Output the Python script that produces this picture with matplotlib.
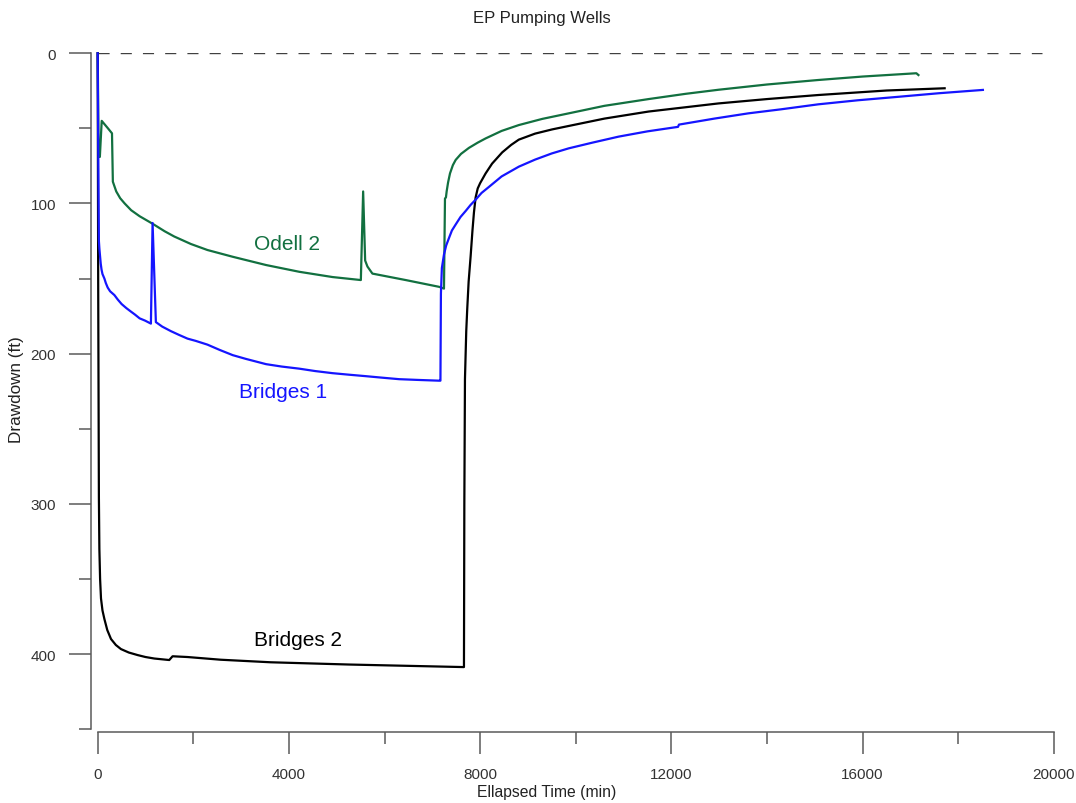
import matplotlib
matplotlib.use("Agg")
import matplotlib.pyplot as plt

plt.rcParams["font.family"] = ["Liberation Sans", "DejaVu Sans"]

# Bridges 1 (blue)
b1_time = [0, 10, 25, 35, 63, 80, 100, 140, 170, 209, 260, 349, 420, 501, 600, 695,
           780, 877, 990, 1113, 1148, 1217,
           1350, 1530, 1700, 1879, 2050, 2296, 2550, 2825, 3100, 3522, 3850, 4217,
           4550, 4912, 5250, 5610, 5950, 6305, 6700, 7140, 7170, 7180, 7200, 7244,
           7290, 7349, 7410, 7489, 7590, 7698, 7800, 7906, 8030, 8184, 8450, 8810,
           9150, 9499, 9854, 10350, 10898, 11500, 12140, 12160, 12900, 13612,
           14300, 15073, 15900, 16743, 17600, 18518]
b1_draw = [0, 60, 125, 130, 140, 144, 147, 150, 153, 156, 158.5, 161, 164, 167, 169.7, 172,
           174, 176.5, 178, 180, 113, 179,
           182, 185, 187.5, 190, 191.5, 194, 197.5, 201, 203.5, 207, 208.6, 210,
           211.6, 213, 214, 215, 216, 217, 217.5, 218, 218, 160, 143, 134,
           128, 123, 118, 114, 109, 105, 101, 97.5, 93, 89, 82, 75.5,
           70.8, 66.7, 63.3, 59.5, 55.5, 52, 49, 47.5, 43.5, 40,
           37.3, 34, 31.3, 29, 26.6, 24.4]

# Odell 2 (green)
o2_time = [0, 20, 45, 84, 215, 299, 317, 388, 470, 564, 700, 877, 1148, 1400,
           1601, 1950, 2296, 2825, 3522, 4217, 4912, 5505, 5553, 5595, 5643, 5747,
           6443, 7140, 7244, 7265, 7285, 7300, 7330, 7370, 7430, 7489, 7600, 7766,
           7950, 8115, 8450, 8810, 9300, 9854, 10600, 11524, 12300, 12985, 14000,
           15073, 16000, 17126, 17170]
o2_draw = [0, 69, 69, 45, 50, 53.3, 85.5, 92, 96.5, 100, 104.5, 108.5, 113.5, 118.5,
           122, 127, 131, 135.5, 141, 145.5, 149, 151, 92, 138, 142, 146.7,
           151, 155.5, 156.7, 96.7, 96, 92, 86, 80, 74.5, 71, 67, 63,
           59.5, 56.7, 51.7, 47.8, 43.7, 40, 35, 30.5, 27, 24.3, 20.8,
           17.8, 15.5, 13.3, 14.5]

# Bridges 2 (black)
b2_time = [0, 10, 25, 35, 50, 69, 100, 140, 200, 278, 380, 486, 650, 835, 1000,
           1184, 1497, 1566, 1879, 2574, 3618, 5261, 7662, 7670, 7683, 7710, 7731,
           7760, 7802, 7840, 7871, 7906, 7950, 8000, 8115, 8250, 8462, 8650, 8810,
           9150, 9506, 9854, 10600, 11524, 12985, 14000, 15073, 16500, 17718]
b2_draw = [0, 150, 296, 330, 350, 363, 371, 376.7, 384, 390, 394, 396.7, 399, 400.7, 402,
           403, 404, 401.5, 402, 403.8, 405.5, 407, 408.7, 300, 217, 185, 170,
           152, 135, 118, 106, 96, 90, 86.5, 80, 73.5, 66, 61, 57.5,
           53.5, 50.7, 48.4, 43.5, 38.8, 33.4, 30.5, 27.8, 24.8, 23.3]

x_major = [0, 4000, 8000, 12000, 16000, 20000]
x_minor = [2000, 6000, 10000, 14000, 18000]
y_major = [0, 100, 200, 300, 400]
y_minor = [50, 150, 250, 350, 450]

GREEN = "#127040"
BLUE = "#1515ff"
AXIS = "#5a5a5a"

fig = plt.figure(figsize=(10.76, 8.04), dpi=100)
ax = fig.add_axes([0.0908, 0.0919, 0.8885, 0.8406])

ax.plot([0, 19750], [0, 0], color="#404040", lw=1.0, dashes=(8, 8))
ax.plot(o2_time, o2_draw, color=GREEN, lw=1.6, clip_on=False)
ax.plot(b2_time, b2_draw, color="black", lw=1.6, clip_on=False)
ax.plot(b1_time, b1_draw, color=BLUE, lw=1.6, clip_on=False)

ax.text(3967, 126.7, "Odell 2", color=GREEN, fontsize=15, ha="center", va="center")
ax.text(3883, 225, "Bridges 1", color=BLUE, fontsize=15, ha="center", va="center")
ax.text(4196, 390, "Bridges 2", color="black", fontsize=15, ha="center", va="center")

ax.set_xlim(0, 20000)
ax.set_ylim(450, 0)

for side in ["top", "right"]:
    ax.spines[side].set_visible(False)
ax.spines["left"].set_position(("outward", 5))
ax.spines["bottom"].set_position(("outward", 2))
ax.spines["left"].set_bounds(0, 450)
ax.spines["bottom"].set_bounds(0, 20000)
for side in ["left", "bottom"]:
    ax.spines[side].set_color(AXIS)
    ax.spines[side].set_linewidth(1.1)

ax.set_xticks(x_major)
ax.set_xticks(x_minor, minor=True)
ax.set_yticks(y_major)
ax.set_yticks(y_minor, minor=True)
ax.tick_params(which="major", length=16, width=1.1, color=AXIS, pad=9,
               labelsize=11, labelcolor="#333333")
ax.tick_params(which="minor", length=8.5, width=1.1, color=AXIS)

fig.text(542 / 1076, 1 - 19 / 804, "EP Pumping Wells", fontsize=12,
         ha="center", va="center", color="#222222")
fig.text(547 / 1076, 1 - 793 / 804, "Ellapsed Time (min)", fontsize=11.3,
         ha="center", va="center", color="#222222")
fig.text(17 / 1076, 1 - 390 / 804, "Drawdown (ft)", fontsize=12.3, rotation=90,
         ha="center", va="center", color="#222222")

fig.savefig("out.png", dpi=100)
